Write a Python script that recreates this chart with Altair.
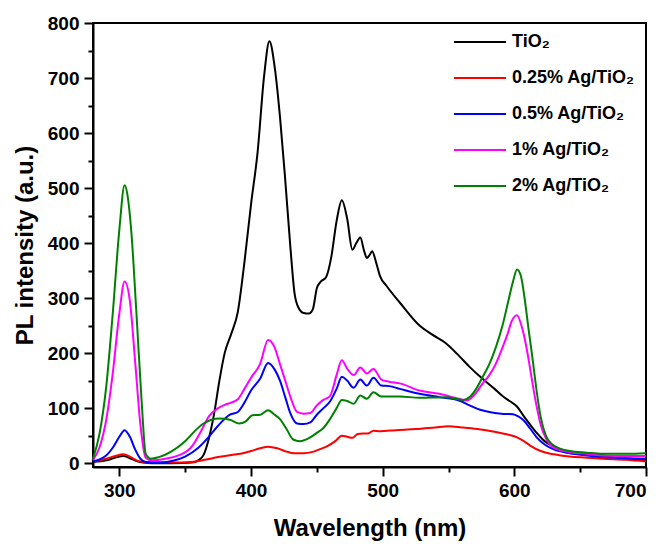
import altair as alt
import pandas as pd

series_names = ["TiO₂", "0.25% Ag/TiO₂", "0.5% Ag/TiO₂", "1% Ag/TiO₂", "2% Ag/TiO₂"]
series_colors = ["#000000", "#ff0000", "#0000ff", "#ff00ff", "#008000"]

tio2_wl = [280, 290, 297, 303, 308, 313, 318, 325, 340, 355, 360, 364, 368, 372, 376, 380, 385, 390, 395, 400, 405, 410, 414, 418, 422, 426, 430, 433, 436, 440, 444, 447, 450, 453, 457, 461, 465, 469, 473, 477, 480, 483, 486, 488, 490, 492, 495, 498, 503, 513, 528, 538, 548, 558, 566, 575, 585, 591, 597, 602, 607, 612, 617, 623, 630, 642, 655, 667, 685, 700]
tio2_pl = [2, 5, 10, 13, 9, 4, 1, 0, 0, 1, 5, 15, 45, 90, 150, 200, 235, 275, 365, 470, 565, 705, 767, 720, 630, 515, 390, 310, 283, 273, 272, 280, 318, 330, 338, 375, 440, 478, 445, 388, 400, 410, 385, 373, 378, 385, 365, 340, 322, 292, 250, 233, 218, 195, 175, 155, 135, 122, 112, 103, 86, 70, 55, 40, 30, 20, 16, 14, 9, 5]

ag025_wl = [280, 290, 297, 303, 308, 313, 318, 325, 340, 355, 365, 375, 385, 392, 400, 407, 413, 420, 427, 433, 440, 446, 452, 458, 464, 469, 473, 477, 481, 485, 489, 493, 498, 510, 525, 540, 550, 560, 572, 585, 595, 600, 606, 612, 620, 630, 642, 655, 667, 685, 700]
ag025_pl = [3, 8, 13, 16, 12, 5, 2, 1, 1, 2, 6, 11, 15, 17, 22, 27, 30, 27, 21, 18, 18, 20, 25, 31, 40, 50, 48, 46, 53, 54, 54, 59, 58, 60, 62, 65, 67, 65, 62, 57, 52, 49, 42, 32, 22, 16, 12, 10, 8, 6, 3]

ag05_wl = [280, 285, 290, 295, 300, 304, 308, 312, 316, 320, 330, 340, 350, 360, 368, 375, 384, 390, 395, 400, 407, 413, 418, 422, 426, 430, 435, 440, 445, 450, 455, 460, 465, 469, 473, 478, 483, 488, 493, 499, 505, 513, 528, 543, 558, 566, 574, 581, 590, 599, 603, 607, 612, 617, 623, 630, 642, 655, 667, 685, 700]
ag05_pl = [3, 7, 14, 28, 48, 60, 48, 25, 8, 2, 1, 4, 12, 28, 48, 68, 88, 93, 110, 132, 154, 182, 170, 150, 120, 90, 72, 71, 74, 88, 100, 112, 135, 157, 150, 137, 152, 141, 155, 141, 140, 135, 126, 120, 114, 105, 97, 93, 90, 89, 85, 78, 63, 47, 34, 25, 18, 14, 11, 9, 8]

ag1_wl = [280, 285, 290, 295, 300, 304, 308, 312, 316, 320, 325, 335, 345, 355, 362, 368, 375, 380, 385, 390, 395, 400, 407, 413, 418, 422, 426, 430, 435, 440, 445, 450, 455, 460, 465, 469, 473, 478, 483, 488, 493, 499, 505, 513, 528, 543, 558, 564, 570, 576, 581, 586, 591, 595, 598, 602, 606, 610, 613, 616, 620, 624, 630, 642, 655, 667, 685, 700]
ag1_pl = [6, 29, 78, 163, 272, 330, 295, 185, 70, 10, 5, 8, 14, 30, 58, 85, 100, 106, 110, 116, 135, 155, 181, 224, 210, 180, 150, 120, 93, 90, 91, 105, 115, 122, 160, 187, 172, 160, 174, 163, 171, 152, 148, 145, 132, 126, 117, 114, 125, 145, 160, 181, 210, 236, 258, 269, 245, 200, 157, 115, 70, 45, 28, 20, 17, 14, 13, 13]

ag2_wl = [280, 285, 290, 295, 300, 304, 306, 309, 313, 317, 320, 324, 330, 340, 350, 358, 364, 370, 376, 384, 391, 396, 401, 407, 413, 418, 422, 427, 432, 437, 445, 450, 455, 460, 465, 469, 473, 478, 483, 488, 493, 499, 513, 528, 548, 561, 566, 571, 576, 581, 586, 591, 595, 599, 602, 605, 608, 611, 614, 617, 620, 624, 630, 642, 655, 667, 685, 700]
ag2_pl = [8, 54, 138, 272, 424, 505, 490, 424, 272, 110, 17, 8, 11, 22, 40, 60, 72, 79, 81, 79, 72, 76, 87, 88, 96, 88, 80, 62, 43, 40, 47, 55, 64, 80, 100, 115, 113, 108, 123, 117, 129, 121, 121, 119, 120, 115, 120, 135, 157, 180, 211, 250, 290, 330, 352, 340, 296, 240, 187, 130, 84, 50, 32, 22, 19, 17, 17, 18]

x_ticks = [300, 350, 400, 450, 500, 550, 600, 650, 700]
y_ticks = [0, 50, 100, 150, 200, 250, 300, 350, 400, 450, 500, 550, 600, 650, 700, 750, 800]

rows = []
for name, wls, vals in zip(series_names,
                           [tio2_wl, ag025_wl, ag05_wl, ag1_wl, ag2_wl],
                           [tio2_pl, ag025_pl, ag05_pl, ag1_pl, ag2_pl]):
    for w, v in zip(wls, vals):
        rows.append({"series": name, "wl": w, "pl": v})
df = pd.DataFrame(rows)

FONT = "Liberation Sans"
tick_major = {"condition": {"test": "datum.value % 100 === 0", "value": 9}, "value": 5}

chart = alt.Chart(df).mark_line(strokeWidth=2, interpolate="monotone").encode(
    x=alt.X("wl:Q", scale=alt.Scale(domain=[280, 700], nice=False, zero=False),
            axis=alt.Axis(title="Wavelength (nm)", values=x_ticks,
                          labelExpr="datum.value % 100 === 0 ? datum.label : ''",
                          tickSize=tick_major, labelPadding=5, titlePadding=16)),
    y=alt.Y("pl:Q", scale=alt.Scale(domain=[-7, 800], nice=False, zero=False),
            axis=alt.Axis(title="PL intensity (a.u.)", values=y_ticks,
                          labelExpr="datum.value % 100 === 0 ? datum.label : ''",
                          tickSize=tick_major, labelPadding=5, titlePadding=10)),
    color=alt.Color("series:N", sort=series_names,
                    scale=alt.Scale(domain=series_names, range=series_colors),
                    legend=alt.Legend(title=None, orient="none", legendX=360, legendY=9,
                                      symbolType="stroke", symbolSize=2704,
                                      symbolStrokeWidth=2, labelOffset=5,
                                      labelFontSize=18, labelFont=FONT,
                                      labelFontWeight="bold", labelColor="black",
                                      clipHeight=20, rowPadding=16, padding=0,
                                      labelLimit=300)),
    order=alt.Order("wl:Q"),
).properties(
    width=553, height=444,
    padding={"left": 93, "top": 23, "right": 19, "bottom": 79},
    autosize="none",
).configure_view(
    stroke="black", strokeWidth=2
).configure_axis(
    grid=False, domainColor="black", domainWidth=2, tickColor="black", tickWidth=2,
    labelFont=FONT, labelFontSize=19, labelFontWeight="bold", labelColor="black",
    titleFont=FONT, titleFontSize=24, titleFontWeight="bold", titleColor="black",
)

chart.save("out.html", embed_options={"renderer": "svg", "actions": False})
